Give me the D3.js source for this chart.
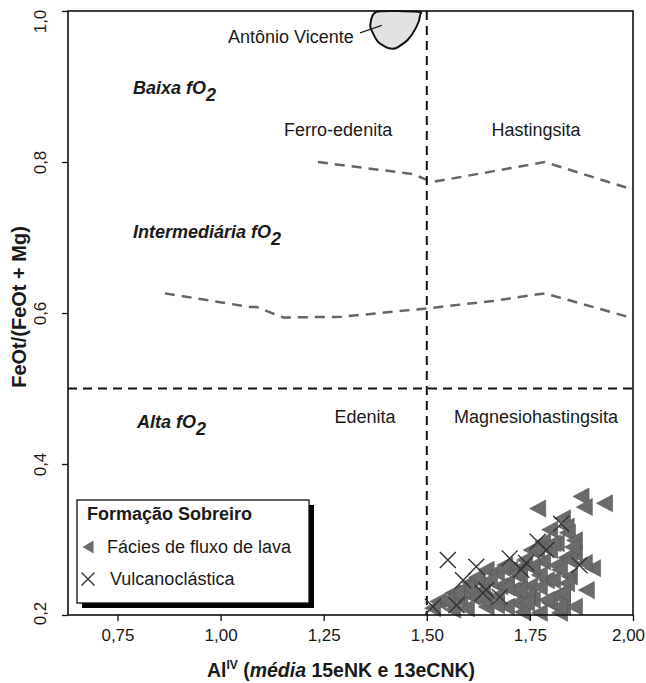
<!DOCTYPE html>
<meta charset="utf-8">
<style>
body{ margin:0; background:#fff; }
text{ font-family:"Liberation Sans", Arial, sans-serif; fill:#1a1a1a; }
.tick text{ font-size:17px; }
.reg{ font-size:18px; }
.fo2{ font-size:18px; font-weight:bold; font-style:italic; }
.title{ font-size:18px; font-weight:bold; }
</style>
<body>
<script src="https://d3js.org/d3.v7.min.js"></script>
<script>

// eixo x: Al IV, eixo y: FeOt/(FeOt+Mg)
var xTicks = [0.75, 1.00, 1.25, 1.50, 1.75, 2.00];
var yTicks = [0.2, 0.4, 0.6, 0.8, 1.0];

// Fácies de fluxo de lava (triangulos)
var lavaX = [1.874,1.882,1.931,1.769,1.829,1.838,1.798,1.841,1.781,1.753,1.814,1.798,1.858,1.838,1.902,1.882,1.846,1.781,1.756,1.725,
  1.790,1.749,1.717,1.693,1.887,1.829,1.829,1.798,1.756,1.717,1.693,1.822,1.773,1.732,1.527,1.551,1.580,1.611,1.640,1.563,
  1.596,1.644,1.669,1.604,1.623,1.644,1.669,1.701,1.725,1.677,1.708,1.635,1.514,1.563,1.587,1.814,1.773,1.737,1.858,1.814,
  1.744,1.669,1.858,1.689,
  1.684,1.718,1.754,1.822,1.846,1.805,1.839,1.773,1.725,1.693,1.652,1.621,1.597,1.572,1.548,1.635,1.742,1.790,1.822,1.829,
  1.853,1.805,1.766];
var lavaY = [0.357,0.343,0.348,0.341,0.328,0.317,0.313,0.309,0.297,0.286,0.295,0.286,0.282,0.276,0.262,0.269,0.251,0.271,0.262,0.262,
  0.246,0.238,0.233,0.242,0.233,0.224,0.211,0.216,0.220,0.216,0.211,0.203,0.203,0.204,0.218,0.216,0.220,0.224,0.220,0.207,
  0.209,0.211,0.213,0.243,0.246,0.260,0.256,0.260,0.251,0.238,0.233,0.233,0.209,0.229,0.233,0.266,0.253,0.273,0.299,0.226,
  0.225,0.225,0.211,0.266,
  0.262,0.256,0.264,0.260,0.273,0.246,0.242,0.237,0.233,0.237,0.246,0.250,0.237,0.229,0.220,0.220,0.216,0.220,0.211,0.229,
  0.290,0.295,0.286];

// Vulcanoclástica (x)
var vulcX = [1.551,1.620,1.701,1.741,1.729,1.769,1.790,1.826,1.870,1.588,1.636,1.677,1.515,1.572,1.644];
var vulcY = [0.273,0.264,0.275,0.269,0.260,0.297,0.286,0.321,0.266,0.246,0.229,0.224,0.211,0.213,0.233];

// limites de fO2 (linhas tracejadas cinza)
var altaX = [1.236,1.466,1.502,1.519,1.786,1.996];
var altaY = [0.800,0.784,0.776,0.774,0.800,0.764];
var intX = [0.865,1.071,1.087,1.152,1.293,1.499,1.660,1.786,1.987];
var intY = [0.626,0.608,0.608,0.594,0.595,0.606,0.616,0.626,0.595];

// campo Antônio Vicente
var avX = [1.378,1.363,1.370,1.382,1.406,1.426,1.454,1.475,1.484,1.479];
var avY = [0.999,0.981,0.970,0.959,0.951,0.951,0.962,0.979,0.995,0.999];

var W = 646, H = 683;
var margin = {top:11, right:13, bottom:68, left:68};

var svg = d3.select("body").append("svg").attr("width", W).attr("height", H);

var x = d3.scaleLinear().domain([0.63, 2.0]).range([margin.left, W - margin.right]);
var y = d3.scaleLinear().domain([0.2, 1.0]).range([H - margin.bottom, margin.top]);
var fmt = function(d){ return d3.format(".2f")(d).replace(".", ","); };
var fmtY = function(d){ return d3.format(".1f")(d).replace(".", ","); };

// campos
svg.append("path")
	.datum(d3.range(avX.length))
	.attr("d", d3.line().x(i=>x(avX[i])).y(i=>y(avY[i])).curve(d3.curveCardinalClosed.tension(0.3)))
	.attr("fill", "#e2e2e2").attr("stroke", "#111").attr("stroke-width", 2);

svg.append("line")
	.attr("x1", x(1.338)).attr("y1", y(0.971)).attr("x2", x(1.391)).attr("y2", y(0.981))
	.attr("stroke", "#222").attr("stroke-width", 1.2);

var bnd = d3.line().x(d=>x(d[0])).y(d=>y(d[1]));
[[altaX, altaY], [intX, intY]].forEach(function(s){
	svg.append("path")
		.datum(d3.zip(s[0], s[1]))
		.attr("d", bnd)
		.attr("fill", "none").attr("stroke", "#666").attr("stroke-width", 2.5)
		.attr("stroke-dasharray", "10,7");
});

svg.append("line")
	.attr("x1", x(1.5)).attr("x2", x(1.5)).attr("y1", y(1.0)).attr("y2", y(0.2))
	.attr("stroke", "#111").attr("stroke-width", 2).attr("stroke-dasharray", "9,6");
svg.append("line")
	.attr("x1", x(0.63)).attr("x2", x(2.0)).attr("y1", y(0.5)).attr("y2", y(0.5))
	.attr("stroke", "#111").attr("stroke-width", 2).attr("stroke-dasharray", "9,6");

// pontos
var tri = "M-8,0L8,-8.5L8,8.5Z";
svg.append("g").selectAll("path")
	.data(d3.range(lavaX.length))
	.join("path")
	.attr("d", tri)
	.attr("transform", i=>"translate(" + x(lavaX[i]) + "," + y(lavaY[i]) + ")")
	.attr("fill", "#6b6b6b").attr("stroke", "#555").attr("stroke-width", 0.6);

function cross(g, s){
	g.append("path").attr("d", "M" + (-s) + "," + (-s) + "L" + s + "," + s + "M" + (-s) + "," + s + "L" + s + "," + (-s))
		.attr("stroke", "#333").attr("stroke-width", 1.4).attr("fill", "none");
}
svg.append("g").selectAll("g")
	.data(d3.range(vulcX.length))
	.join("g")
	.attr("transform", i=>"translate(" + x(vulcX[i]) + "," + y(vulcY[i]) + ")")
	.each(function(){ cross(d3.select(this), 8); });

// quadro
svg.append("rect")
	.attr("x", margin.left).attr("y", margin.top)
	.attr("width", W - margin.left - margin.right).attr("height", H - margin.top - margin.bottom)
	.attr("fill", "none").attr("stroke", "#111").attr("stroke-width", 1.6);

// eixos
var gx = svg.append("g").attr("transform", "translate(0," + y(0.2) + ")")
	.call(d3.axisBottom(x).tickValues(xTicks).tickFormat(fmt).tickSize(6).tickPadding(8));
gx.select(".domain").remove();
gx.selectAll(".tick line").attr("stroke", "#111").attr("stroke-width", 1.3);
gx.selectAll(".tick text").attr("dx", d=>d==2.0 ? -5 : 0);

var gy = svg.append("g").attr("transform", "translate(" + x(0.63) + ",0)")
	.call(d3.axisLeft(y).tickValues(yTicks).tickFormat(fmtY).tickSize(6));
gy.select(".domain").remove();
gy.selectAll(".tick line").attr("stroke", "#111").attr("stroke-width", 1.3);
gy.selectAll(".tick text")
	.attr("transform", "rotate(-90)")
	.attr("x", d=>d==1.0 ? -10 : (d==0.2 ? 2 : 0)).attr("y", -22).attr("dy", 0)
	.style("text-anchor", "middle");

svg.append("text").attr("class", "title")
	.attr("transform", "translate(26,307) rotate(-90)")
	.style("text-anchor", "middle").style("font-size", "20px")
	.text("FeOt/(FeOt + Mg)");

var xl = svg.append("text").attr("class", "title")
	.attr("x", 341).attr("y", 677).style("text-anchor", "middle").style("font-size", "19.5px");
xl.append("tspan").text("Al");
xl.append("tspan").attr("dy", -8).style("font-size", "12px").text("IV");
xl.append("tspan").attr("dy", 8).text(" (");
xl.append("tspan").style("font-style", "italic").text("média");
xl.append("tspan").text(" 15eNK e 13eCNK)");

// rotulos dos campos
svg.append("text").attr("class", "reg").attr("x", 228).attr("y", 43).text("Antônio Vicente");
svg.append("text").attr("class", "reg").attr("x", x(1.285)).attr("y", 136).style("text-anchor", "middle").text("Ferro-edenita");
svg.append("text").attr("class", "reg").attr("x", x(1.765)).attr("y", 136).style("text-anchor", "middle").text("Hastingsita");
svg.append("text").attr("class", "reg").attr("x", x(1.35)).attr("y", 423).style("text-anchor", "middle").text("Edenita");
svg.append("text").attr("class", "reg").attr("x", x(1.765)).attr("y", 423).style("text-anchor", "middle").text("Magnesiohastingsita");

function fo2(lbl, px, py){
	var t = svg.append("text").attr("class", "fo2").attr("x", px).attr("y", py);
	t.append("tspan").text(lbl + " fO");
	t.append("tspan").attr("dy", 7).text("2");
}
fo2("Baixa", 133, 94);
fo2("Intermediária", 133, 238);
fo2("Alta", 137, 428);

// legenda
var lg = svg.append("g").attr("transform", "translate(77,500)");
lg.append("rect").attr("x", 5).attr("y", 5).attr("width", 232).attr("height", 103).attr("fill", "#000");
lg.append("rect").attr("width", 232).attr("height", 103).attr("fill", "#fff").attr("stroke", "#111").attr("stroke-width", 1.3);
lg.append("text").attr("class", "title").attr("x", 10).attr("y", 20).text("Formação Sobreiro");
lg.append("path").attr("d", "M-5.5,0L5.5,-6.5L5.5,6.5Z").attr("transform", "translate(11,47)").attr("fill", "#6b6b6b");
lg.append("text").attr("class", "reg").attr("x", 30).attr("y", 53).text("Fácies de fluxo de lava");
cross(lg.append("g").attr("transform", "translate(11,79)"), 6.5);
lg.append("text").attr("class", "reg").attr("x", 33).attr("y", 85).text("Vulcanoclástica");

</script>
</body>
